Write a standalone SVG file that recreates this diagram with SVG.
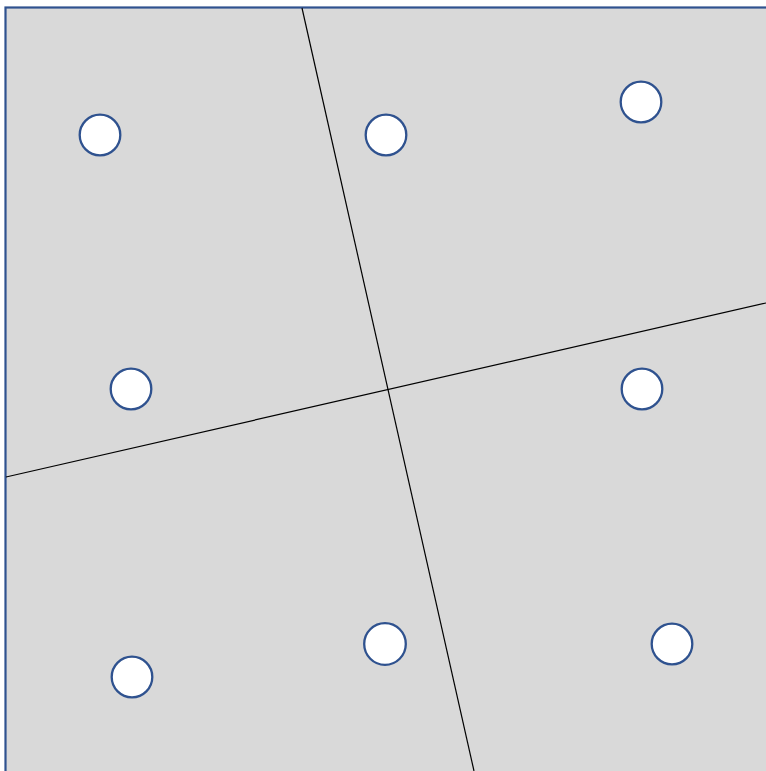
<svg xmlns="http://www.w3.org/2000/svg" width="766" height="771" viewBox="0 0 766 771">
<style>
.site{fill:#ffffff;stroke:#2F528F;stroke-width:2.3}
.cut{stroke:#000000;stroke-width:1.2;fill:none}
</style>
<rect x="0" y="0" width="766" height="771" fill="#ffffff"/>
<g id="region">
<rect x="5.5" y="7.5" width="780" height="790" fill="#D9D9D9" stroke="#2F528F" stroke-width="2.2"/>
</g>
<g id="connectors">
<line class="cut" x1="302" y1="8" x2="474" y2="771"/>
<line class="cut" x1="6" y1="477" x2="766" y2="303"/>
</g>
<g id="site1"><circle class="site" cx="100" cy="135" r="20.3"/></g>
<g id="site2"><circle class="site" cx="386" cy="135" r="20.3"/></g>
<g id="site3"><circle class="site" cx="641" cy="102" r="20.3"/></g>
<g id="site4"><circle class="site" cx="131" cy="389" r="20.3"/></g>
<g id="site5"><circle class="site" cx="642" cy="389" r="20.3"/></g>
<g id="site6"><circle class="site" cx="132" cy="677" r="20.3"/></g>
<g id="site7"><circle class="site" cx="385" cy="644" r="20.8"/></g>
<g id="site8"><circle class="site" cx="672" cy="644" r="20.3"/></g>
</svg>
